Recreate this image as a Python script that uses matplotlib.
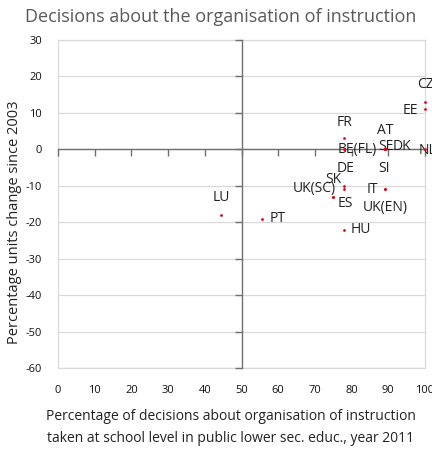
import numpy as np
import matplotlib.pyplot as plt

# Country values
countries = ['CZ', 'EE', 'FR', 'AT', 'SE', 'DK', 'BE(FL)', 'NL', 'SI',
             'DE', 'SK', 'UK(SC)', 'ES', 'IT', 'UK(EN)', 'LU', 'PT', 'HU']
share_school = [100, 100, 78, 89, 89, 89, 78, 100, 89,
                78, 75, 75, 78, 89, 89, 44.5, 55.5, 78]
change_2003 = [13, 11, 3, 0, 0, 0, 0, 0, 0,
               -10, -13, -13, -11, -11, -11, -18, -19, -22]

# label offsets (pixels) from each point, set by hand like the original
label_offsets = {'CZ': (0, 17), 'EE': (-15, -1), 'FR': (0, 16), 'AT': (1, 19),
                 'SE': (1, 3), 'DK': (17, 3), 'BE(FL)': (13, 0), 'NL': (2, -1),
                 'SI': (-1, -19), 'DE': (1, 17), 'SK': (0, 17), 'UK(SC)': (-19, 8),
                 'ES': (1, -14), 'IT': (-12, 0), 'UK(EN)': (1, -18), 'LU': (0, 17),
                 'PT': (16, 0), 'HU': (17, 0)}

plt.rcParams['font.family'] = ['Open Sans', 'DejaVu Sans']
plt.rcParams['axes.unicode_minus'] = False

fig = plt.figure(figsize=(4.32, 4.53), dpi=100)
pos = [58/432, 1 - 368/453, (425-58)/432, (368-40)/453]

# background axes: grid, box and tick labels
ax = fig.add_axes(pos)
ax.set_xlim(0, 100)
ax.set_ylim(-60, 30)
ax.set_xticks(np.arange(0, 101, 10))
ax.set_yticks(np.arange(-60, 31, 10))
ax.tick_params(length=0, labelsize=8, colors='#111111')
ax.tick_params(axis='x', pad=12)
ax.tick_params(axis='y', pad=11.5)
ax.grid(axis='y', color='#d9d9d9', lw=0.9)
ax.set_axisbelow(True)
for s in ax.spines.values():
    s.set_color('#d9d9d9')
    s.set_linewidth(0.9)

# overlay axes: the crossing axis lines at x=50 and y=0
ax2 = fig.add_axes(pos, sharex=ax, sharey=ax)
ax2.patch.set_visible(False)
ax2.spines['left'].set_position(('data', 50))
ax2.spines['bottom'].set_position(('data', 0))
ax2.spines['top'].set_visible(False)
ax2.spines['right'].set_visible(False)
for s in ('left', 'bottom'):
    ax2.spines[s].set_color('#707070')
    ax2.spines[s].set_linewidth(1.0)
ax2.tick_params(labelleft=False, labelbottom=False, length=5,
                direction='out', color='#707070', width=1.0)

ax2.plot(share_school, change_2003, 'o', ms=2, color='#e3001b',
         mec='none', clip_on=False, zorder=5)
for c, x, y in zip(countries, share_school, change_2003):
    dx, dy = label_offsets[c]
    ax2.annotate(c, (x, y), xytext=(dx, dy), textcoords='offset pixels',
                 ha='center', va='center', fontsize=10, color='#222222',
                 annotation_clip=False)

fig.text(221/432, 1 - 17/453, 'Decisions about the organisation of instruction',
         ha='center', va='center', fontsize=13, color='#595959')
fig.text(231/432, 1 - 417/453,
         'Percentage of decisions about organisation of instruction',
         ha='center', va='center', fontsize=10, color='#222222')
fig.text(231/432, 1 - 438/453,
         'taken at school level in public lower sec. educ., year 2011',
         ha='center', va='center', fontsize=10, color='#222222')
fig.text(15/432, 1 - 222/453, 'Percentage units change since 2003',
         ha='center', va='center', rotation=90, fontsize=10.5, color='#222222')

fig.savefig('out.png', dpi=100)
